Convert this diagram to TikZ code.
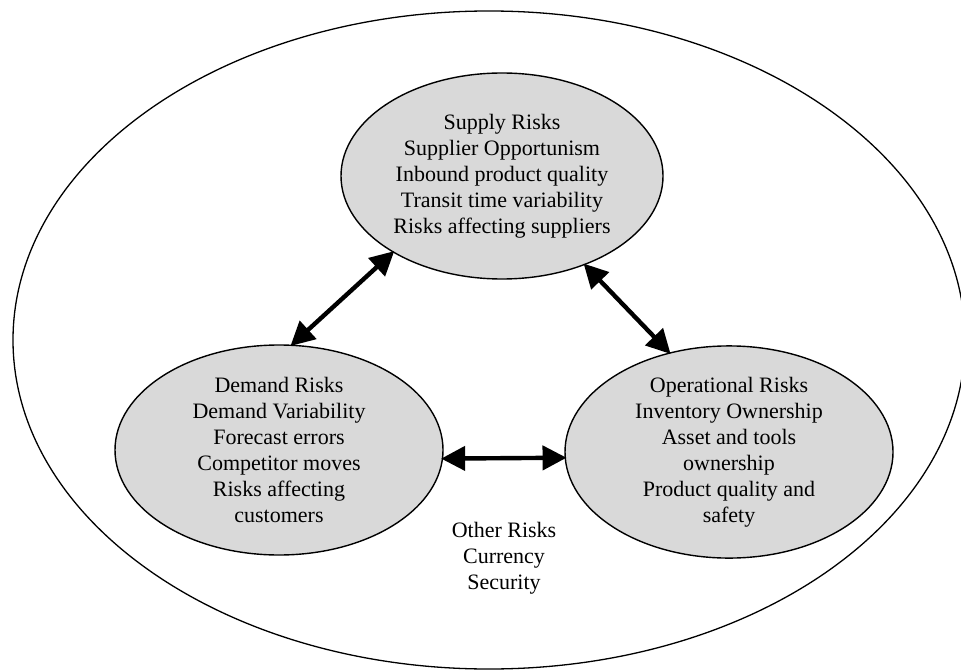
\documentclass[tikz,border=0pt]{standalone}
\usepackage{fontspec}
\setmainfont{Liberation Serif}
\usetikzlibrary{shapes.geometric,arrows.meta}

\tikzset{
  riskbox/.style={ellipse, draw, line width=0.7pt, fill=gray!30, inner sep=0pt, align=center},
  twoway/.style={line width=2.2pt, {Triangle[length=12pt,width=12pt]}-{Triangle[length=12pt,width=12pt]}, shorten <=-1pt, shorten >=-1pt}
}

\begin{document}
\begin{tikzpicture}[x=0.5pt,y=0.5pt, font=\fontsize{11}{13}\selectfont]
\useasboundingbox (0,0) rectangle (961,670);

% ===== Outer boundary =====
\draw[line width=0.65pt] (489,330) ellipse [x radius=476, y radius=329];

% ===== Three risk areas =====
\node[riskbox, minimum width=161pt, minimum height=103pt] (supply) at (502,494)
  {Supply Risks\\ Supplier Opportunism\\ Inbound product quality\\ Transit time variability\\ Risks affecting suppliers};
\node[riskbox, minimum width=164pt, minimum height=105pt] (demand) at (279,220)
  {Demand Risks\\ Demand Variability\\ Forecast errors\\ Competitor moves\\ Risks affecting\\ customers};
\node[riskbox, minimum width=164pt, minimum height=102pt] (operational) at (729,218)
  {Operational Risks\\ Inventory Ownership\\ Asset and tools\\ ownership\\ Product quality and\\ safety};

\node[align=center] (other) at (504,112) {Other Risks\\ Currency\\ Security};

% ===== Links =====
\draw[twoway] (supply.215) -- (demand.83);
\draw[twoway] (supply.-47) -- (operational.121);
\draw[twoway] (demand.-3) -- (operational.182);

\end{tikzpicture}
\end{document}
